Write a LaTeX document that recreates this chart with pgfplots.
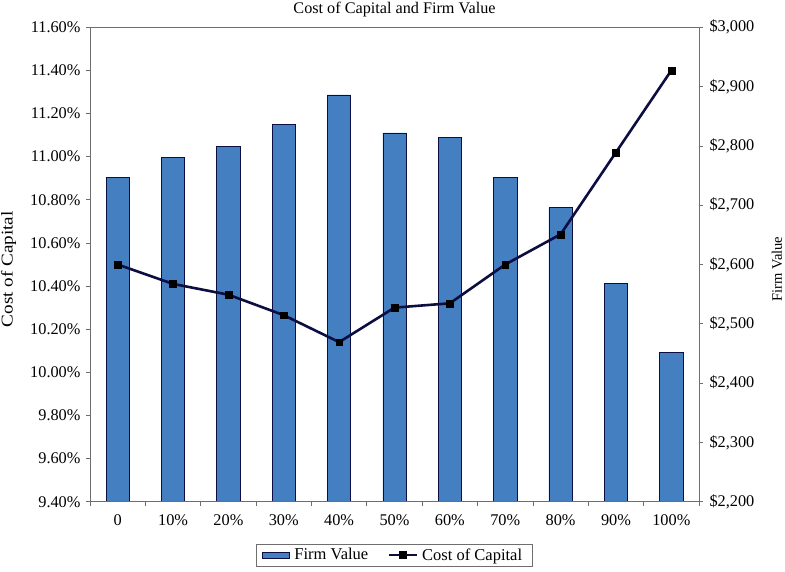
\documentclass[border=0pt]{standalone}
\usepackage{fontspec}
\setmainfont{Liberation Serif}
\usepackage{pgfplots}
\pgfplotsset{compat=1.18}
\definecolor{barblue}{RGB}{68,127,194}
\definecolor{navy}{RGB}{12,14,66}
\definecolor{axgray}{RGB}{110,110,110}
\begin{document}
\begin{tikzpicture}
\pgfplotsset{
  every axis/.append style={
    scale only axis, width=609pt, height=474.4pt,
    xmin=-0.5, xmax=10.5,
    axis line style={axgray, line width=0.9pt},
    tick style={axgray, line width=0.8pt},
    tick align=outside,
    major tick length=4pt, minor tick length=4pt,
    /pgf/number format/assume math mode=true,
    ticklabel style={font=\fontsize{16.3}{19}\selectfont},
    every axis title shift=0pt,
  }
}
% bars: firm value, right axis
\begin{axis}[
  ymin=2200, ymax=3000,
  ytick={2200,2300,...,3000},
  ytick pos=right,
  yticklabel={\$\pgfmathprintnumber[1000 sep={,}]{\tick}},
  yticklabel style={xshift=3pt},
  xtick=\empty,
  ylabel={Firm Value},
  ylabel style={at={(axis description cs:1.128,0.49)}, anchor=center, rotate=0, font=\fontsize{14.5}{16}\selectfont},
]
\addplot[ybar, bar width=23.3pt, fill=barblue, draw=navy, line width=0.6pt] coordinates {
(0,2747) (1,2781) (2,2799) (3,2836) (4,2886) (5,2822) (6,2815) (7,2747) (8,2696) (9,2568) (10,2452)
};
\end{axis}
% line: cost of capital, left axis
\begin{axis}[
  ymin=9.4, ymax=11.6,
  ytick={9.4,9.6,...,11.61},
  ytick pos=left,
  yticklabel={\pgfmathprintnumber[fixed,fixed zerofill,precision=2]{\tick}\%},
  yticklabel style={xshift=-2pt},
  xtick={0,...,10},
  xticklabels={0,10\%,20\%,30\%,40\%,50\%,60\%,70\%,80\%,90\%,100\%},
  major x tick style={draw=none},
  minor xtick={-0.5,0.5,...,10.5},
  xtick pos=bottom,
  xticklabel style={yshift=-5pt},
  ylabel={\scalebox{1.16}[1]{Cost of Capital}},
  ylabel style={at={(axis description cs:-0.1335,0.49)}, anchor=center, font=\fontsize{16.5}{19}\selectfont},
  title={Cost of Capital and Firm Value},
  title style={at={(axis description cs:0.5,1.0365)}, anchor=center, font=\fontsize{16.2}{19}\selectfont},
  legend style={at={(axis description cs:0.5,-0.1124)}, anchor=center,
    legend columns=2, draw=axgray, line width=0.6pt,
    font=\fontsize{16.5}{19}\selectfont,
    inner xsep=6pt,
    nodes={inner xsep=4.5pt, inner ysep=2.5pt},
    /tikz/every even column/.append style={column sep=15pt}},
]
\addlegendimage{legend image code/.code={\draw[fill=barblue, draw=navy, line width=0.6pt] (0pt,-3pt) rectangle (27pt,3pt);}}
\addlegendentry{Firm Value}
\addplot[navy, line width=2.6pt, mark=square*, mark size=3.4pt, mark options={fill=black, draw=black, line width=0.3pt},
  legend image code/.code={\draw[navy, line width=2pt] (0pt,0pt) -- (28pt,0pt); \fill[black] (11.5pt,-2.5pt) rectangle (16.5pt,2.5pt);}] coordinates {
(0,10.50) (1,10.41) (2,10.36) (3,10.265) (4,10.14) (5,10.30) (6,10.32) (7,10.50) (8,10.64) (9,11.02) (10,11.40)
};
\addlegendentry{Cost of Capital}
\end{axis}
\pgfresetboundingbox
\path (-90pt,-69.3pt) rectangle (695pt,501.7pt);
\end{tikzpicture}
\end{document}
